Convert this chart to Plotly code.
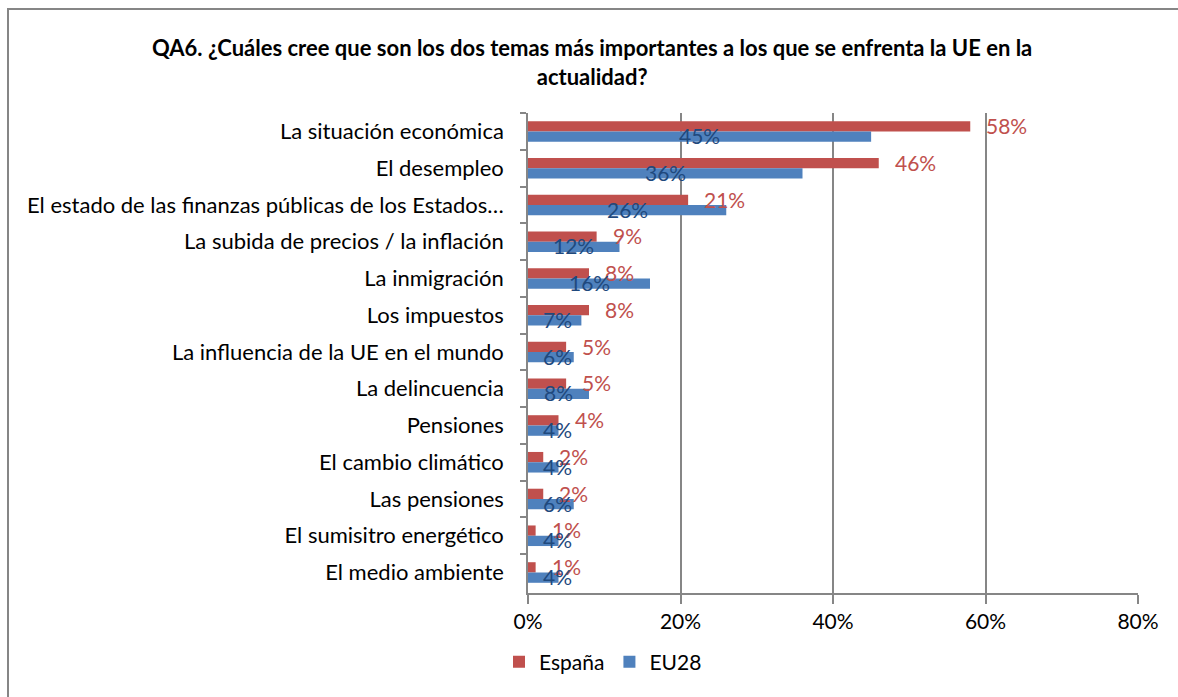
import plotly.graph_objects as go

categories = [
    "La situación económica",
    "El desempleo",
    "El estado de las finanzas públicas de los Estados…",
    "La subida de precios / la inflación",
    "La inmigración",
    "Los impuestos",
    "La influencia de la UE en el mundo",
    "La delincuencia",
    "Pensiones",
    "El cambio climático",
    "Las pensiones",
    "El sumisitro energético",
    "El medio ambiente",
]
espana = [58, 46, 21, 9, 8, 8, 5, 5, 4, 2, 2, 1, 1]
eu28 = [45, 36, 26, 12, 16, 7, 6, 8, 4, 4, 6, 4, 4]
x_ticks = [0, 20, 40, 60, 80]
title_text = "QA6. ¿Cuáles cree que son los dos temas más importantes a los que se enfrenta la UE en la<br>actualidad?"

RED = "#C0504D"
BLUE = "#4F81BD"
DARKBLUE = "#1F497D"
GRID = "#868686"
FONT = "Lato"

W, H = 1178, 697
L, R, T, B = 528, 1138, 113, 593


def px_x(p):
    return (p - L) / (R - L)


def px_y(p):
    return (B - p) / (B - T)


fig = go.Figure()
fig.add_trace(go.Bar(y=categories, x=espana, orientation="h", name="España",
                     marker=dict(color=RED, line=dict(width=0))))
fig.add_trace(go.Bar(y=categories, x=eu28, orientation="h", name="EU28",
                     marker=dict(color=BLUE, line=dict(width=0))))

ann = []
for c, v in zip(categories, espana):
    ann.append(dict(x=v, y=c, xref="x", yref="y", text=f"{v}%", showarrow=False,
                    xanchor="left", yanchor="middle", xshift=14, yshift=6,
                    font=dict(family=FONT, size=21, color=RED)))
for c, v in zip(categories, eu28):
    ann.append(dict(x=max(v / 2, 3.87), y=c, xref="x", yref="y", text=f"{v}%", showarrow=False,
                    xanchor="center", yanchor="middle", yshift=-4,
                    font=dict(family=FONT, size=21, color=DARKBLUE)))
ann.append(dict(text="<b>" + title_text + "</b>", xref="paper", yref="paper",
                x=px_x(592), y=px_y(32), xanchor="center", yanchor="top",
                showarrow=False, font=dict(family=FONT, size=22, color="black")))

border_path = (f"M {px_x(8)},{px_y(760)} L {px_x(8)},{px_y(9)} L {px_x(1240)},{px_y(9)}")

fig.update_layout(
    width=W, height=H,
    margin=dict(l=L, r=W - R, t=T, b=H - B, pad=0),
    paper_bgcolor="white", plot_bgcolor="white",
    barmode="group", bargap=0.44, bargroupgap=0,
    font=dict(family=FONT, size=22, color="black"),
    showlegend=True,
    legend=dict(orientation="h", x=px_x(603), y=px_y(662),
                xanchor="center", yanchor="middle", font=dict(family=FONT, size=21),
                traceorder="normal", itemwidth=30),
    annotations=ann,
    shapes=[dict(type="path", xref="paper", yref="paper", path=border_path,
                 line=dict(color=GRID, width=2), fillcolor="rgba(0,0,0,0)", layer="below")],
)
fig.update_xaxes(range=[0, 80], tickvals=x_ticks, ticktext=[f"{t}%" for t in x_ticks],
                 showgrid=True, gridcolor=GRID, gridwidth=1.5, zeroline=False,
                 showline=True, linecolor=GRID, linewidth=1.5,
                 ticks="outside", ticklen=9, tickcolor=GRID, tickwidth=1.5,
                 tickfont=dict(family=FONT, size=21, color="black"))
fig.update_yaxes(autorange="reversed", showline=True, linecolor=GRID, linewidth=1.5,
                 ticks="outside", tickson="boundaries", ticklen=6, tickcolor=GRID, tickwidth=1.5,
                 showgrid=False, ticklabelstandoff=18,
                 tickfont=dict(family=FONT, size=22, color="black"))

fig.write_html("out.html", config={"displayModeBar": False},
               post_script=("document.body.style.margin='0';"
                            "document.body.style.overflow='hidden';"
                            "document.documentElement.style.overflow='hidden';"))
